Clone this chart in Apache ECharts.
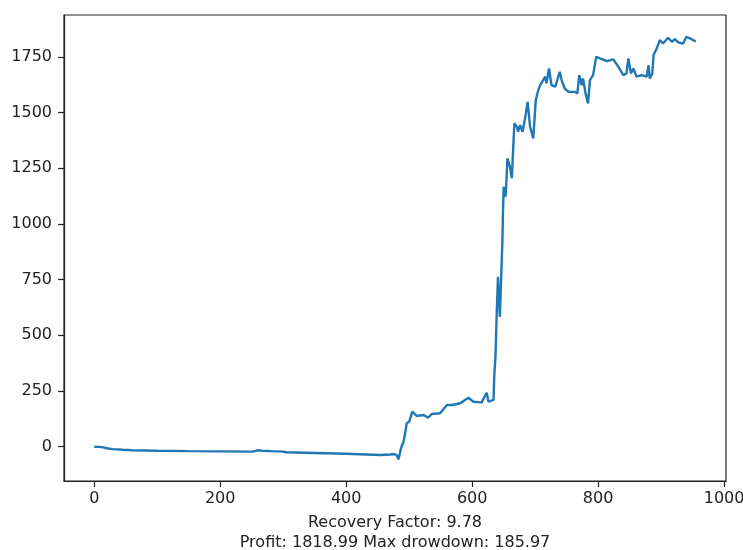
<!DOCTYPE html>
<html>
<head>
<meta charset="utf-8">
<script src="https://cdn.jsdelivr.net/npm/echarts@6/dist/echarts.min.js"></script>
<style>html,body{margin:0;padding:0;background:#fff}#c{width:743px;height:550px}</style>
</head>
<body>
<div id="c"></div>
<script>
var xs = [0,8,14,22,30,45,60,100,150,200,252,256,260,266,280,300,305,350,400,454,470,475,478,480,483,487,491,494,496,500,505,512,523,530,536,549,560,568,581,594,602,615,623,626,634,635,637,639,641,644,647,648,649,650,653,654,656,660,663,667,671,673,676,680,684,688,692,697,701,705,708,711,716,718,722,726,732,739,742,747,753,763,767,770,774,776,780,784,787,792,797,803,814,824,832,840,845,848,852,856,861,869,877,880,882,886,888,893,898,903,911,917,922,927,935,940,946,955];
var ys = [0,-1,-3,-8,-11,-14,-16,-18,-20,-21,-22,-19,-16,-18,-20,-22,-25,-28,-32,-37,-35,-33,-36,-37,-57,-7,22,67,105,112,157,138,142,130,147,150,187,187,195,220,202,199,242,202,210,314,404,599,763,583,838,920,1062,1167,1122,1167,1294,1257,1205,1452,1436,1414,1444,1414,1474,1548,1436,1384,1556,1601,1623,1616,1661,1631,1698,1623,1616,1683,1646,1608,1593,1593,1586,1668,1623,1653,1586,1541,1646,1668,1750,1743,1731,1739,1706,1668,1676,1743,1676,1698,1661,1668,1661,1713,1653,1676,1758,1788,1825,1810,1836,1818,1830,1815,1810,1840,1833,1819];
var xTicks = [0,200,400,600,800,1000];
var yTicks = [0,250,500,750,1000,1250,1500,1750];
var footer = ['Recovery Factor: 9.78', 'Profit: 1818.99 Max drowdown: 185.97'];

var data = xs.map(function(x,i){return [x, ys[i]];});
var chart = echarts.init(document.getElementById('c'), null, {renderer:'canvas'});
var font = 'DejaVu Sans';
var plain = function(v){ return String(v); };
chart.setOption({
  animation:false,
  grid:{left:64,right:17,top:15,bottom:69,show:true,borderColor:'#222',borderWidth:1.2,containLabel:false,outerBoundsMode:'none'},
  xAxis:{type:'value',min:-48,max:1003,
    name:footer.join('\n'),nameLocation:'middle',nameGap:32,
    nameTextStyle:{fontFamily:font,fontSize:16,color:'#222',lineHeight:20,verticalAlign:'top'},
    axisLine:{show:true,onZero:false,lineStyle:{color:'#222',width:1.2}},
    axisTick:{show:true,inside:false,length:6,customValues:xTicks,lineStyle:{color:'#222',width:1.2}},
    axisLabel:{customValues:xTicks,formatter:plain,margin:10,fontFamily:font,fontSize:16,color:'#222'},
    splitLine:{show:false}},
  yAxis:{type:'value',min:-154,max:1938,
    axisLine:{show:true,onZero:false,lineStyle:{color:'#222',width:1.2}},
    axisTick:{show:true,inside:false,length:6,customValues:yTicks,lineStyle:{color:'#222',width:1.2}},
    axisLabel:{customValues:yTicks,formatter:plain,margin:12,fontFamily:font,fontSize:16,color:'#222'},
    splitLine:{show:false}},
  series:[{type:'line',data:data,showSymbol:false,symbol:'none',
    lineStyle:{color:'#1f77b4',width:2.4},itemStyle:{color:'#1f77b4'}}]
});
</script>
</body>
</html>
